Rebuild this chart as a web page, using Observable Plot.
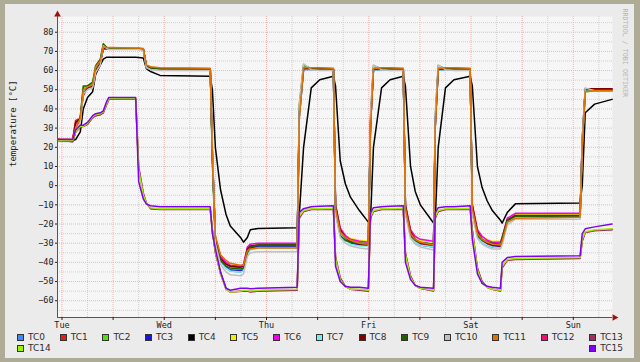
<!DOCTYPE html>
<html><head><meta charset="utf-8">
<script src="https://cdn.jsdelivr.net/npm/d3@7"></script>
<script src="https://cdn.jsdelivr.net/npm/@observablehq/plot@0.6"></script>
<style>
html,body{margin:0;padding:0;}
body{width:640px;height:362px;background:#aeac97;position:relative;overflow:hidden;}
#canvas{position:absolute;left:5px;top:4px;width:629px;height:354px;background:#ebebeb;}
#chart{position:absolute;left:0;top:0;}
#legend{position:absolute;left:17px;top:332px;width:606px;font-family:"DejaVu Sans";font-size:9px;line-height:11px;color:#303030;}
.row{display:flex;justify-content:space-between;}
.item{display:flex;align-items:center;}
.sw{width:5px;height:5px;border:1px solid #333;margin-right:4px;}
</style></head><body>
<div id="canvas"></div><div id="chart"></div><div id="legend"></div>
<script>
// time in hours from Tuesday 00:00
const hours = [-1.0,2.5,3.2,4.3,5.0,6.0,7.2,7.9,9.0,9.7,10.5,11.0,17.3,18.0,19.1,19.8,20.8,23.0,34.8,35.3,36.0,37.2,38.5,39.5,41.9,42.6,43.5,44.2,46.0,55.2,55.7,56.7,58.5,60.5,63.7,64.2,65.3,66.5,67.7,69.8,71.9,72.4,73.1,75.0,77.0,80.1,80.6,81.8,82.9,84.1,87.2,87.6,88.3,90.0,92.0,95.8,96.3,97.5,98.6,99.8,101.0,102.9,103.3,104.5,106.4,121.6,122.1,122.8,125.0,129.1];

const tc0 = [23.5,23.5,31,34,49,51,52,60,64.5,72,71.5,71.5,71.3,71.3,71,62,61.2,60.8,60.6,17,-28,-39,-43,-44.5,-45,-44,-35,-33,-32,-32,36,60.8,60.8,60.8,60.6,-12,-25,-28,-29.5,-31,-31,31,60.5,60.8,60.8,60.6,-12,-25.5,-29,-30.5,-31.5,31,60.5,60.8,60.8,60.6,-12,-25.5,-28.5,-30,-31,-31,-29,-19,-16.3,-16.3,21,49.5,49.8,49.8];
const tc1 = [24,24,34,35,47,51,52,59,64,71.5,71.5,71.5,71.3,71.3,71,62.5,61.5,61.2,61,16,-27,-37,-40.5,-42,-42.5,-42,-34,-32,-31,-31,37,61.2,61.2,61.2,61,-11,-24,-27.5,-29,-30.5,-30.5,31,60.8,61.2,61.2,61,-11,-25,-28.5,-30.5,-31.5,31,60.8,61.2,61.2,61,-11,-25,-28.5,-30.5,-31.5,-31.5,-28.5,-18.5,-15.2,-15.2,22,50,50.2,50.2];
const tc2 = [23.5,23,29,34,51,52,53,62,65.5,73.5,72,71.5,71.5,71.5,71.2,62,61.3,61,60.8,14,-29,-38,-42,-44,-44,-43.5,-35,-32.5,-31.5,-31.5,40,62,61,61,60.8,-13,-25,-27.5,-28.5,-29.5,-30,33,61.5,61,61,60.8,-13,-25,-28,-29.5,-30.5,33,61.5,61,61,60.8,-13,-25,-28,-29,-30,-30.5,-28,-19,-16.5,-16,21,49,49.5,49.5];
const tc3 = [23.5,23.5,30,34,49,51,52,60,64.5,72,71.5,71.3,71.2,71.2,70.8,62,61,60.5,60.4,16,-28,-39,-42.5,-44,-44.5,-44,-35,-32.5,-31.5,-31.5,36,60.5,60.5,60.5,60.4,-12,-25,-28.5,-30,-31,-31,31,60.3,60.5,60.5,60.4,-12,-26,-29.5,-31,-32,31,60.3,60.5,60.5,60.4,-12,-26,-29.5,-31,-32,-32,-29.5,-19,-16,-16,21,49.5,49.5,49.5];
const tc4 = [24,23.5,24,28,40,46,49,58,63,66,67,67,67,66.8,66.5,61,59.5,57.5,57,50,20,-2,-15,-21,-27,-29.5,-27,-23,-22.3,-22,-15,20,51,55.2,57,52,13,1,-6,-13,-19,-18,20,51,55.2,57,52,10,-3,-10,-19.5,-18,20,51,55.2,57,52,10,-1,-8,-13,-18,-19.5,-14,-9.5,-9,0,38,42.5,45];
const tc5 = [24,23.5,31,34,50,51,52,61,65,72,71.8,71.5,71.5,71.5,71.2,62.5,61.5,60.8,60.6,15,-27,-37,-40,-41.5,-42,-41.5,-33,-31.5,-31,-31,37,61,60.8,60.8,60.6,-10,-22,-26,-27.5,-28.5,-29,32,60.6,60.8,60.8,60.6,-10,-23,-26.5,-28.5,-29.5,32,60.6,60.8,60.8,60.6,-10,-23,-26.5,-28,-29,-29,-27,-18,-15,-15,23,49.5,49.8,49.8];
const tc6 = [24,24,32,35,49,51,52,60,64,71.5,71.5,71.3,71.2,71.2,71,62.5,61.5,61,60.8,17,-27,-37,-40,-41.5,-42,-41,-32,-30.5,-30,-30,38,61,61,61,60.8,-10,-22,-26,-28,-29,-29.5,33,60.8,61,61,60.8,-10,-23,-26.5,-28,-29,33,60.8,61,61,60.8,-10,-23,-26.5,-28.5,-29.5,-29.5,-27,-17,-14.4,-14.4,24,50,50.2,50.2];
const tc7 = [23.5,23,30,34,49,51,52,60,64.5,72,71.5,71.3,71.2,71.2,70.8,62,61,60.5,60.4,16,-28,-39,-43,-44.5,-45,-44.5,-36,-33.5,-32.5,-32.5,36,60.5,60.5,60.5,60.4,-12,-25,-28.5,-30.5,-31.5,-31.5,31,60.3,60.5,60.5,60.4,-12,-26,-29.5,-31,-32,31,60.3,60.5,60.5,60.4,-12,-26,-29.5,-31,-32,-32.5,-30,-19.5,-16.5,-16.5,21,49.5,49.5,49.5];
const tc8 = [24,23.5,33,35,48,51,52,60,64,71.5,71.3,71.3,71.2,71.2,71,62.5,61.5,61,60.8,18,-28,-38,-41,-42,-42.5,-42,-33,-31.5,-31,-31,38,61,61,61,60.8,-10,-23,-27,-29,-30.5,-31,32,60.5,61,61,60.8,-10,-24,-28,-30,-31,32,60.5,61,61,60.8,-10,-24,-28,-30,-31,-31.5,-28,-18,-15.5,-15.5,24,50.5,50.5,50.5];
const tc9 = [23.5,23,28,36,52,52,54,62.5,66,74,72,71.5,71.5,71.5,71.2,62.5,61.5,61,60.8,12,-30,-39,-42,-43,-43.5,-43,-35,-32,-31,-31,42,63,61,60.8,60.8,-14,-26,-28.5,-29.5,-30,-30.5,35,62.5,61,60.8,60.8,-14,-26,-28.5,-29.5,-30.5,35,62.5,61,60.8,60.8,-14,-26,-28.5,-29.5,-30,-30.5,-27,-18,-16,-15.8,22,50,50,50];
const tc10 = [23,23,29,33,48,50,51,59,63,73,71.5,71,71,71,70.5,61.5,60.5,60,60,20,-30,-41,-45,-46.5,-47,-46,-37,-35,-34.5,-34.5,43,63.5,60.5,60,60,-15,-27,-30,-31.5,-32.5,-33,38,63,60.5,60,60,-15,-27.5,-30.5,-32,-33.5,38,63,60.5,60,60,-15,-27.5,-30.5,-32,-33,-33,-31,-20.5,-17.5,-17.5,25,51,49.5,49.5];
const tc11 = [24,24,30,35,50,51.5,52.5,62,65,72.5,72,72,71.8,71.8,71.5,63,62,61.5,61.2,15,-26,-36,-39,-40.5,-41.5,-41.5,-34,-33,-32.5,-32.5,35,61.5,61.5,61.5,61.2,-12,-24,-27,-28.5,-30,-30.5,30,61,61.5,61.5,61.2,-12,-25,-28,-29.5,-31,30,61,61.5,61.5,61.2,-12,-25,-28,-29.5,-30.5,-31,-29,-19,-17,-16.5,20,49,49.5,49.5];
const tc12 = [23.5,23,28,30.5,31,32,35.5,36.5,37,38,42.5,45,45,9,-4.5,-9,-12,-12.3,-12.3,-23.5,-34.5,-46,-54,-55.5,-55,-54.8,-54.8,-55.2,-54.8,-54.3,-16.5,-13.3,-12.3,-12.3,-12,-37.5,-48.5,-52.5,-54,-54.3,-54.8,-16.5,-13.3,-12.3,-12.3,-12,-35.5,-47.5,-52,-53.5,-54.8,-16.5,-13.3,-12.3,-12.3,-12,-23.5,-43.5,-50.5,-53,-54,-54.8,-42.5,-38.8,-38.3,-37.8,-28.5,-24.3,-23.3,-22.8];
const tc13 = [23.5,23,28,30.5,31,32,35.5,36.5,37,38,42.5,45,45,10,-4,-9,-12,-12.5,-12.5,-23,-35,-45,-53.5,-55.5,-55,-55,-55,-55.5,-55,-54.5,-17,-13.5,-12.5,-12.5,-12.3,-37,-48,-52.5,-54,-54.5,-55,-17,-13.5,-12.5,-12.5,-12.3,-35,-47,-52,-53.5,-55,-17,-13.5,-12.5,-12.5,-12.3,-23,-43,-50,-53,-54,-55,-43,-39,-38.5,-38,-29,-24.5,-23.5,-23];
const tc14 = [23.5,23.5,28,31,31,32.5,36,37,37.5,38.5,43,45.5,45.5,8,-5,-9,-11.5,-12,-12,-24,-34,-46,-54,-55.5,-55,-54.5,-54.5,-55,-54.5,-54,-16,-13,-12,-12,-11.8,-38,-49,-52.5,-54,-54,-54.5,-16,-13,-12,-12,-11.8,-36,-48,-52,-53.5,-54.5,-16,-13,-12,-12,-11.8,-24,-44,-51,-53,-54,-54.5,-42,-38.5,-38,-37.5,-28,-24,-23,-22.5];
const tc15 = [24,24,29,31.5,31.5,33,36.5,37.5,38,39,44,46,46,2,-7,-9.5,-10.5,-11,-11,-25,-33,-45,-53.5,-54.5,-53.5,-53.5,-53.5,-53.8,-53.5,-53,-14,-12,-11,-10.8,-10.5,-42,-50,-52.5,-53,-53,-53.5,-14,-11.5,-11,-10.8,-10.5,-40,-49,-52,-53,-53.5,-14,-11.5,-11,-11,-10.5,-28,-46,-51,-52.5,-53,-53.5,-40,-37.5,-37,-36.5,-25,-22.5,-21.5,-20];

const seriesNames = ["TC0","TC1","TC2","TC3","TC4","TC5","TC6","TC7","TC8","TC9","TC10","TC11","TC12","TC13","TC14","TC15"];
const seriesColors = ["#4488ee","#e02010","#50e010","#2010e0","#000000","#f0f000","#f000f0","#70f0f0","#800000","#206000","#c0c0c0","#e07000","#f01070","#a03060","#a0f000","#8000f0"];
const seriesValues = [tc0,tc1,tc2,tc3,tc4,tc5,tc6,tc7,tc8,tc9,tc10,tc11,tc12,tc13,tc14,tc15];

const dayHours = [0,24,48,72,96,120];
const dayLabels = ["Tue","Wed","Thu","Fri","Sat","Sun"];
const xMajor = [0,12,24,36,48,60,72,84,96,108,120];
const xMinor = [6,18,30,42,54,66,78,90,102,114,126];
const yTicks = [-60,-50,-40,-30,-20,-10,0,10,20,30,40,50,60,70,80];
const yMinor = [-65,-55,-45,-35,-25,-15,-5,5,15,25,35,45,55,65,75,85];
const xDomain = [-1.05, 129.2];
const yDomain = [-68.75, 88.2];

const rows = [];
seriesNames.forEach((name, i) => {
  seriesValues[i].forEach((v, j) => rows.push({name, h: hours[j], v}));
});

const chart = Plot.plot({
  width: 640, height: 332,
  marginLeft: 57, marginRight: 28, marginTop: 16, marginBottom: 15,
  x: {domain: xDomain},
  y: {domain: yDomain},
  color: {domain: seriesNames, range: seriesColors},
  style: {background: "transparent", fontFamily: "'DejaVu Sans Mono'", fontSize: "8.5px", color: "#222", overflow: "visible"},
  marks: [
    Plot.frame({fill: "#f6f6f6", stroke: "none"}),
    Plot.ruleY(yMinor, {stroke: "#cfcfcf", strokeWidth: 1, strokeDasharray: "1,1"}),
    Plot.ruleX(xMinor, {stroke: "#cfcfcf", strokeWidth: 1, strokeDasharray: "1,1"}),
    Plot.ruleY(yTicks, {stroke: "#f0b4b4", strokeWidth: 1, strokeDasharray: "1,1"}),
    Plot.ruleX(xMajor, {stroke: "#f0b4b4", strokeWidth: 1, strokeDasharray: "1,1"}),
    Plot.line(rows, {x: "h", y: "v", z: "name", stroke: "name", strokeWidth: 1.5}),
    Plot.ruleX([xDomain[0]], {stroke: "#555", strokeWidth: 1}),
    Plot.ruleY([yDomain[0]], {stroke: "#555", strokeWidth: 1}),
    Plot.dot([0], {frameAnchor: "top-left", symbol: "triangle", r: 2.5, fill: "#a01010", stroke: "none", dy: -2}),
    Plot.dot([0], {frameAnchor: "bottom-right", symbol: "triangle", r: 2.5, fill: "#a01010", stroke: "none", rotate: 90, dx: 2}),
    Plot.axisY({ticks: yTicks, tickSize: 2, tickPadding: 2, label: null}),
    Plot.axisX({ticks: xMajor, tickSize: 3, tickFormat: () => "", label: null}),
    Plot.axisX({ticks: dayHours, tickSize: 0, tickPadding: 4, tickFormat: d => dayLabels[dayHours.indexOf(d)], label: null}),
    Plot.text(["temperature [°C]"], {text: d => d, frameAnchor: "left", rotate: -90, dx: -44, fontSize: 9, fill: "#222"}),
    Plot.text(["RRDTOOL / TOBI OETIKER"], {text: d => d, frameAnchor: "top-right", rotate: 90, textAnchor: "start", dx: 15, dy: -8, fontSize: 6.7, fill: "#b4b4b4"})
  ]
});
document.getElementById("chart").appendChild(chart);

// legend
const legend = document.getElementById("legend");
const rowsSpec = [seriesNames.slice(0, 14), seriesNames.slice(14)];
rowsSpec.forEach(names => {
  const r = document.createElement("div");
  r.className = "row";
  names.forEach(n => {
    const it = document.createElement("div");
    it.className = "item";
    const sw = document.createElement("span");
    sw.className = "sw";
    sw.style.background = seriesColors[seriesNames.indexOf(n)];
    const t = document.createElement("span");
    t.textContent = n;
    it.appendChild(sw); it.appendChild(t);
    r.appendChild(it);
  });
  legend.appendChild(r);
});
</script></body></html>
